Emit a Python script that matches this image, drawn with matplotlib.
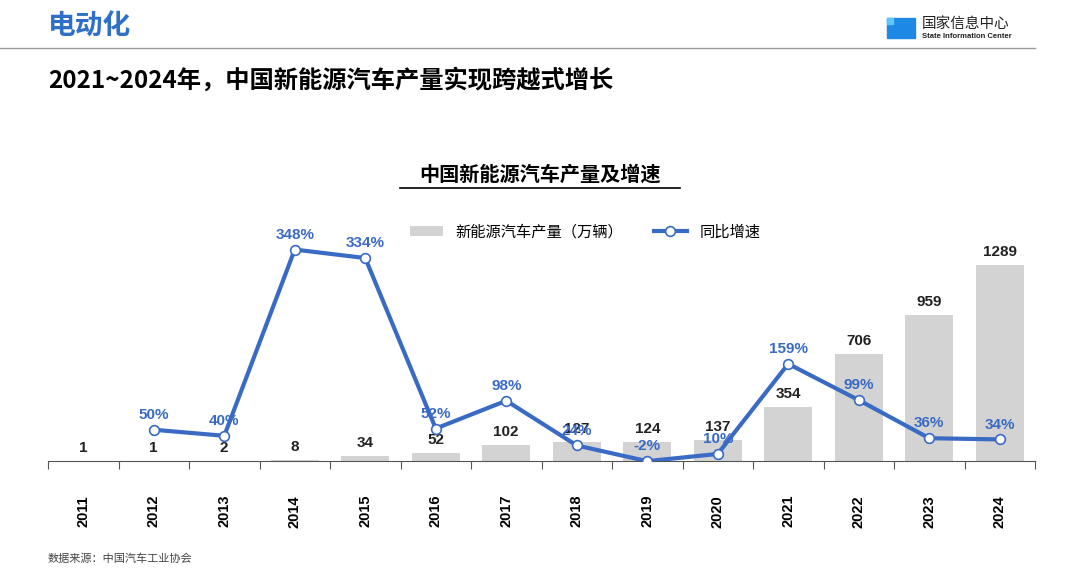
import matplotlib
matplotlib.use("Agg")
import matplotlib.pyplot as plt
import numpy as np

plt.rcParams["font.family"] = ["Noto Sans CJK SC"]

years = ["2011","2012","2013","2014","2015","2016","2017","2018","2019","2020","2021","2022","2023","2024"]
production = [1, 1, 2, 8, 34, 52, 102, 127, 124, 137, 354, 706, 959, 1289]
growth = [None, 50, 40, 348, 334, 52, 98, 24, -2, 10, 159, 99, 36, 34]

W, H = 1080, 569
fig = plt.figure(figsize=(W/100, H/100), dpi=100)
blue = "#3A6BC4"
x = np.arange(len(years))

ax = fig.add_axes([48/W, 1-461/H, (1035-48)/W, 261/H])
ax.bar(x, production, width=0.68, color="#D3D3D3", label="新能源汽车产量（万辆）", zorder=1)
ax.set_xlim(-0.5, 13.5)
ax.set_ylim(0, 1716)
for i, v in enumerate(production):
    ax.text(i, v + 40, str(v), ha="center", va="bottom", fontsize=11, fontweight="bold", color="#222222", family="Liberation Sans")
for s in ["top", "right", "left"]:
    ax.spines[s].set_visible(False)
ax.spines["bottom"].set_color("#555555")
ax.set_yticks([])
ax.set_xticks(np.arange(-0.5, 14, 1))
ax.set_xticklabels([])
ax.tick_params(axis="x", length=6, color="#555555")
for i, y in enumerate(years):
    ax.text(i, -0.13, y, rotation=90, ha="center", va="top", fontsize=10.5, fontweight="bold", transform=ax.get_xaxis_transform(), family="Liberation Sans")

ax2 = ax.twinx()
ax2.set_ylim(-1.7, 430)
gx = [i for i, g in enumerate(growth) if g is not None]
gy = [g for g in growth if g is not None]
ax2.plot(gx, gy, color=blue, lw=3, marker="o", markersize=7, markerfacecolor="white", markeredgecolor=blue, markeredgewidth=1.2, label="同比增速", zorder=3)
for i, g in zip(gx, gy):
    ax2.text(i, g + 13, f"{g}%", ha="center", va="bottom", fontsize=11, fontweight="bold", color=blue, family="Liberation Sans")
ax2.axis("off")

h1, l1 = ax.get_legend_handles_labels()
h2, l2 = ax2.get_legend_handles_labels()
fig.legend(h1 + h2, l1 + l2, loc="center", bbox_to_anchor=(585/W, 1-232/H), ncol=2, frameon=False, fontsize=11, handlelength=2.2, columnspacing=2)

fig.text(48/W, 1-27/H, "电动化", fontsize=20, fontweight="bold", color="#2E6FC7", va="center")
fig.add_artist(plt.Line2D([0, 1035/W], [1-48/H, 1-48/H], color="#999999", lw=1))
fig.text(48/W, 1-80/H, "2021~2024年，中国新能源汽车产量实现跨越式增长", fontsize=17.5, fontweight="bold", va="center")
fig.text(540/W, 1-174/H, "中国新能源汽车产量及增速", fontsize=14.5, fontweight="bold", ha="center", va="center")
fig.add_artist(plt.Line2D([400/W, 680/W], [1-188/H, 1-188/H], color="black", lw=1.2))
fig.text(48/W, 1-559/H, "数据来源：中国汽车工业协会", fontsize=8, color="#444444", va="center")

# logo
fig.patches.append(plt.Rectangle((887/W, 1-38/H), 28/W, 20/H, transform=fig.transFigure, color="#1E88E5"))
fig.patches.append(plt.Rectangle((887/W, 1-24/H), 6/W, 6/H, transform=fig.transFigure, color="#5BC8F5"))
fig.text(922/W, 1-24/H, "国家信息中心", fontsize=10.5, va="center", color="#222222")
fig.text(922/W, 1-36/H, "State Information Center", fontsize=5.5, fontweight="bold", va="center", color="#222222", family="Liberation Sans")

fig.savefig("out.png", dpi=100)
